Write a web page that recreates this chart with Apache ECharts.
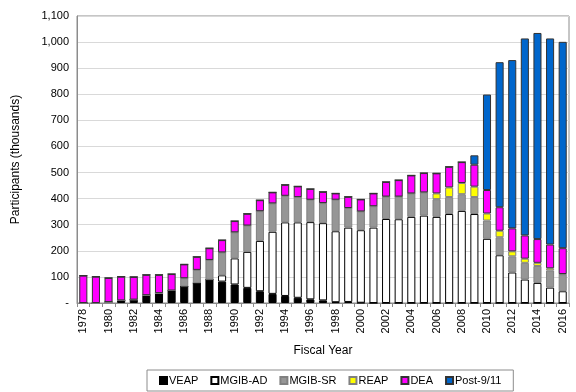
<!DOCTYPE html>
<html><head><meta charset="utf-8">
<script src="https://cdn.jsdelivr.net/npm/echarts@6/dist/echarts.min.js"></script>
<style>html,body{margin:0;padding:0;background:#fff}#c{width:576px;height:392px}</style>
</head><body><div id="c"></div>
<script>
const years = ['1978','1979','1980','1981','1982','1983','1984','1985','1986','1987','1988','1989','1990','1991','1992','1993','1994','1995','1996','1997','1998','1999','2000','2001','2002','2003','2004','2005','2006','2007','2008','2009','2010','2011','2012','2013','2014','2015','2016'];
const veap   = [0,0,4,10,13,30,38,48,63,76,89,82,71,58,45,35,27,20,14,10,3,4,1,0,0,0,0,0,0,0,0,0,0,0,0,0,0,0,0];
const mgibAD = [0,0,0,0,0,0,0,0,0,0,0,24,100,138,193,238,282,289,296,296,272,285,278,289,322,321,330,335,330,341,353,341,246,183,117,90,77,59,45];
const mgibSR = [0,0,0,0,0,0,0,0,32,51,76,88,100,101,114,109,102,97,86,77,121,75,72,82,86,87,90,89,68,65,64,65,70,69,62,64,65,66,65];
const reap   = [0,0,0,0,0,0,0,0,0,0,0,0,0,0,0,0,0,0,0,0,0,0,0,0,0,0,0,0,22,37,43,40,27,25,19,16,12,8,1];
const dea    = [105,101,92,91,87,78,70,63,53,50,45,47,43,45,42,42,42,41,41,43,24,43,46,49,56,63,69,74,77,79,80,84,90,90,88,89,91,91,99];
const post911= [0,0,0,0,0,0,0,0,0,0,0,0,0,0,0,0,0,0,0,0,0,0,0,0,0,0,0,0,0,0,0,36,366,556,645,755,790,790,791];

const font = 'Liberation Sans, Arial, sans-serif';
function s(name, data, color, border) {
  return {name, type:'bar', stack:'t', data, barCategoryGap:'36%',
    itemStyle:{color, borderColor:border, borderWidth:1}};
}
const chart = echarts.init(document.getElementById('c'));
chart.setOption({
  animation:false,
  textStyle:{fontFamily:font},
  grid:{left:77, right:7, top:16, bottom:89, show:true, borderColor:'#8c8c8c', borderWidth:1},
  legend:{top:370, left:147, itemWidth:7, itemHeight:7, itemGap:12, icon:'rect',
    borderColor:'#8c8c8c', borderWidth:1, padding:[5,12,5,12],
    textStyle:{fontFamily:font, fontSize:11, color:'#000', padding:[0,0,0,-3]},
    data:['VEAP','MGIB-AD','MGIB-SR','REAP','DEA','Post-9/11']},
  xAxis:{type:'category', data:years, name:'Fiscal Year', nameLocation:'middle', nameGap:42,
    nameTextStyle:{fontFamily:font, fontSize:12, color:'#000'},
    axisLine:{lineStyle:{color:'#8c8c8c'}},
    axisTick:{show:true, interval:0, length:4, lineStyle:{color:'#8c8c8c'}},
    axisLabel:{interval:1, rotate:90, fontSize:11, color:'#000', fontFamily:font, margin:6}},
  yAxis:{type:'value', min:0, max:1100, interval:100, name:'Participants (thousands)',
    nameLocation:'middle', nameGap:55, nameTextStyle:{fontFamily:font, fontSize:12, color:'#000'},
    axisLine:{show:true, lineStyle:{color:'#8c8c8c'}},
    splitLine:{lineStyle:{color:'#d9d9d9'}},
    axisLabel:{fontSize:11, color:'#000', fontFamily:font, margin:8,
      formatter:v => v===0 ? '-' : v.toLocaleString('en-US')}},
  series:[
    s('VEAP', veap, '#000000', '#000000'),
    s('MGIB-AD', mgibAD, '#ffffff', '#000000'),
    s('MGIB-SR', mgibSR, '#969696', '#808080'),
    s('REAP', reap, '#ffff00', '#808080'),
    s('DEA', dea, '#ff00ff', '#333333'),
    s('Post-9/11', post911, '#0066cc', '#333333')
  ]
});
</script></body></html>
